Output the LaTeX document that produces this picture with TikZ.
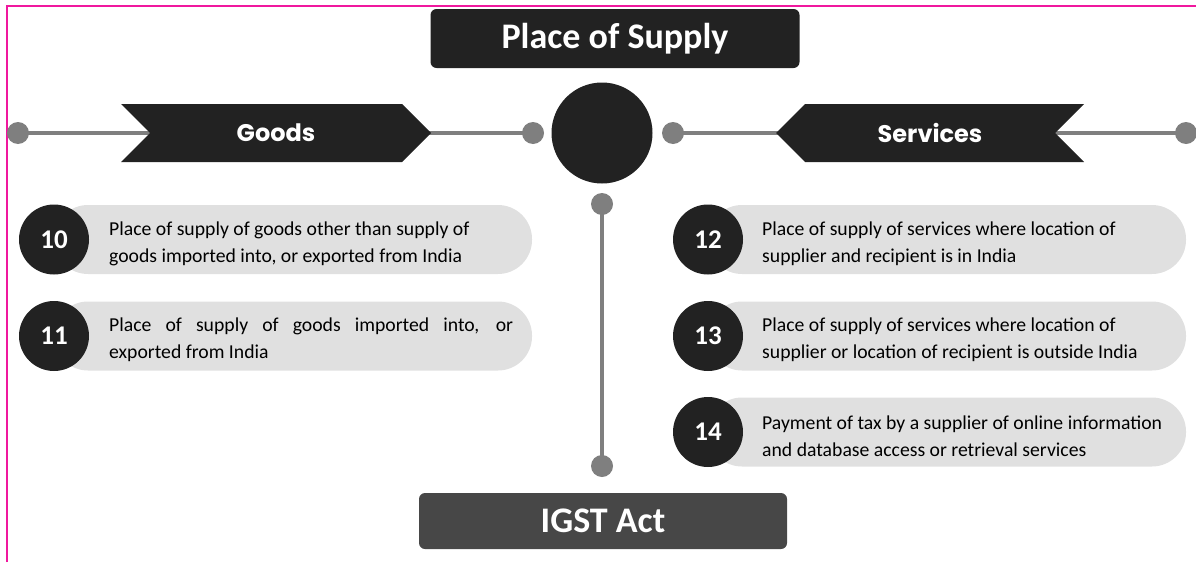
\documentclass[tikz,border=0pt]{standalone}
\usepackage{fontspec}
\setmainfont{Carlito}
\newfontfamily\popfont{Poppins}
\usetikzlibrary{shapes.symbols, backgrounds}
\usepackage{xcolor}
\definecolor{darkCol}{HTML}{222222}
\definecolor{actCol}{HTML}{474747}
\definecolor{pillCol}{HTML}{E0E0E0}
\definecolor{lineCol}{HTML}{7F7F7F}
\definecolor{frameCol}{HTML}{F0189E}

\begin{document}
\begin{tikzpicture}[
    x=1pt, y=-1pt,
    titlebox/.style={rectangle, rounded corners=6pt, fill=darkCol, text=white, font=\fontsize{36}{40}\selectfont\bfseries, inner sep=0pt},
    hub/.style={circle, fill=darkCol, minimum size=101pt, inner sep=0pt},
    banner/.style={signal, signal pointer angle=90, fill=darkCol, text=white, font=\popfont\fontsize{24}{26}\selectfont\bfseries, minimum height=58pt, inner sep=0pt},
    dot/.style={circle, fill=lineCol, minimum size=22pt, inner sep=0pt},
    pill/.style={rectangle, rounded corners=34pt, fill=pillCol, minimum height=69pt, minimum width=478pt, inner sep=0pt},
    num/.style={circle, fill=darkCol, text=white, font=\fontsize{27}{28}\selectfont\bfseries, minimum size=70pt, inner sep=0pt},
    desc/.style={anchor=west, align=left, font=\fontsize{19.7}{27}\selectfont, inner sep=0pt},
    link/.style={line width=4.5pt, draw=lineCol}
]
\useasboundingbox (0,0) rectangle (1196,562);

% =====================================================================
% FRAME
% =====================================================================
\draw[frameCol, line width=1.5pt] (7,562) -- (7,6) -- (1196,6);

% =====================================================================
% HEADER, HUB AND FOOTER
% =====================================================================
\node[titlebox, minimum width=369pt, minimum height=59pt] (TITLE) at (615,38.5) {\raisebox{-2.5pt}{Place of Supply}};
\node[hub] (HUB) at (602,133) {};
\node[titlebox, fill=actCol, minimum width=368pt, minimum height=56pt] (ACT) at (603,521) {IGST Act};

% =====================================================================
% BRANCHES: GOODS (left) AND SERVICES (right)
% =====================================================================
\node[dot] (gdotL) at (18,133) {};
\node[dot] (gdotR) at (533,133) {};
\node[banner, signal from=west, signal to=east, minimum width=310pt] (GOODS) at (276,133) {Goods};

\node[dot] (sdotL) at (673,133) {};
\node[dot] (sdotR) at (1186,133) {};
\node[banner, signal from=east, signal to=west, minimum width=308pt] (SERV) at (930,133) {Services};

\node[dot] (vdotT) at (602,204) {};
\node[dot] (vdotB) at (602,466) {};

% =====================================================================
% SECTIONS
% =====================================================================
% Goods
\node[pill] (p10) at (293,239.5) {};
\node[num] (n10) at (54,239.5) {10};
\node[desc] (t10) at (109,244) {Place of supply of goods other than supply of\\goods imported into, or exported from India};

\node[pill] (p11) at (293,336) {};
\node[num] (n11) at (54,336) {11};
\node[desc] (t11) at (109,340) {\makebox[404pt][s]{Place of supply of goods imported into, or}\\exported from India};

% Services
\node[pill] (p12) at (947,239.5) {};
\node[num] (n12) at (708,239.5) {12};
\node[desc] (t12) at (762,244) {Place of supply of services where location of\\supplier and recipient is in India};

\node[pill] (p13) at (947,336) {};
\node[num] (n13) at (708,336) {13};
\node[desc] (t13) at (762,340) {Place of supply of services where location of\\supplier or location of recipient is outside India};

\node[pill] (p14) at (947,432) {};
\node[num] (n14) at (708,432) {14};
\node[desc] (t14) at (762,436) {Payment of tax by a supplier of online information\\and database access or retrieval services};

% =====================================================================
% LINKS
% =====================================================================
\begin{scope}[on background layer]
    \draw[link] (gdotL.center) -- (gdotR.center);
    \draw[link] (sdotL.center) -- (sdotR.center);
    \draw[link] (vdotT.center) -- (vdotB.center);
\end{scope}

\end{tikzpicture}
\end{document}
